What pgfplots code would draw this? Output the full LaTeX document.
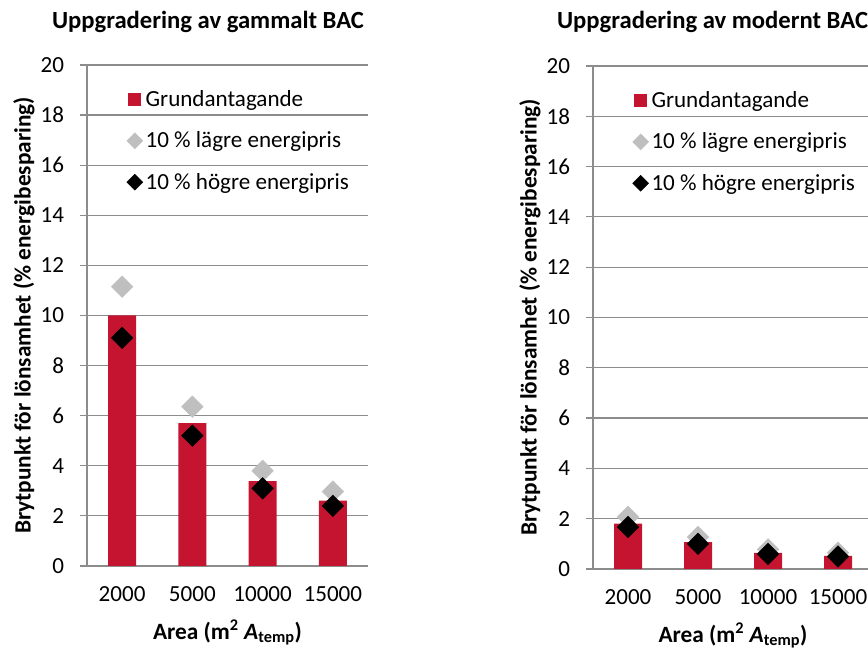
\documentclass[border=0pt]{standalone}
\usepackage{fontspec}
\setmainfont{Carlito}
\usepackage{pgfplots}
\pgfplotsset{compat=1.18}

\definecolor{barred}{RGB}{196,20,48}
\definecolor{litegray}{RGB}{191,191,191}
\definecolor{gridgray}{RGB}{140,140,140}

\pgfplotsset{
  bacstyle/.style={
    scale only axis, anchor=south west,
    xmin=-0.5, xmax=3.5, ymin=0, ymax=20,
    ytick={0,2,...,20},
    xtick={0,1,2,3}, xticklabels={2000,5000,10000,15000},
    minor xtick={-0.5,0.5,1.5,2.5,3.5},
    xtick style={draw=none},
    minor tick style={draw=gridgray, line width=0.9pt},
    ytick style={draw=gridgray, line width=0.9pt},
    tick align=outside, major tick length=5.25pt, minor tick length=5.25pt,
    axis x line*=bottom, axis y line*=left,
    axis line style={-, draw=gridgray, line width=0.9pt},
    ymajorgrids, grid style={draw=gridgray, line width=0.9pt},
    /pgf/number format/assume math mode=true,
    tick label style={font=\fontsize{17.3}{20}\selectfont},
    yticklabel style={anchor=east, xshift=-8.5pt},
    xticklabel style={anchor=center, yshift=-16pt},
    label style={font=\fontsize{17.5}{20}\selectfont\bfseries},
    xlabel={Area (m\textsuperscript{2} \textit{A}\textsubscript{temp})},
    xlabel style={at={(axis description cs:0.5,0)}, anchor=center, yshift=-50pt},
    ylabel={Brytpunkt för lönsamhet (\% energibesparing)},
    ylabel style={at={(axis description cs:0,0.5)}, anchor=center, yshift=47.25pt},
    legend cell align=left,
    legend style={at={(axis description cs:0.14,0.955)}, anchor=north west,
      draw=none, fill=none, row sep=13.5pt, inner sep=0pt,
      font=\fontsize{17.3}{20}\selectfont},
  },
  barleg/.style={legend image code/.code={
    \fill[barred] (0pt,-4.875pt) rectangle (9.75pt,4.875pt);}},
  grayleg/.style={legend image code/.code={
    \fill[litegray, rotate around={45:(4.9pt,0pt)}] (0.7pt,-4.2pt) rectangle (9.1pt,4.2pt);}},
  blackleg/.style={legend image code/.code={
    \fill[black, rotate around={45:(4.9pt,0pt)}] (0.7pt,-4.2pt) rectangle (9.1pt,4.2pt);}},
  dia/.style={only marks, color=#1, mark=square*, mark size=5.7pt,
    mark options={rotate=45, fill=#1, draw=none}},
}

\begin{document}
\begin{tikzpicture}
% left panel: old BAC
\begin{axis}[bacstyle, at={(65.25pt,62.25pt)}, width=210.75pt, height=375.75pt]
\addplot[ybar, bar width=0.4, fill=barred, draw=none, barleg]
  coordinates {(0,10.0) (1,5.70) (2,3.39) (3,2.61)};
\addplot[dia=litegray, grayleg]
  coordinates {(0,11.15) (1,6.36) (2,3.80) (3,2.97)};
\addplot[dia=black, blackleg]
  coordinates {(0,9.11) (1,5.20) (2,3.10) (3,2.40)};
\legend{Grundantagande, 10 \% lägre energipris, 10 \% högre energipris}
\end{axis}
% right panel: modern BAC
\begin{axis}[bacstyle, at={(444.75pt,60pt)}, width=210pt, height=377.25pt]
\addplot[ybar, bar width=0.4, fill=barred, draw=none, barleg]
  coordinates {(0,1.80) (1,1.07) (2,0.64) (3,0.52)};
\addplot[dia=litegray, grayleg]
  coordinates {(0,2.07) (1,1.27) (2,0.78) (3,0.65)};
\addplot[dia=black, blackleg]
  coordinates {(0,1.67) (1,1.00) (2,0.60) (3,0.50)};
\legend{Grundantagande, 10 \% lägre energipris, 10 \% högre energipris}
\end{axis}
\node[font=\fontsize{18.5}{22}\selectfont\bfseries] at (156pt,470.25pt) {Uppgradering av gammalt BAC};
\node[font=\fontsize{18.5}{22}\selectfont\bfseries] at (534.4pt,470.25pt) {Uppgradering av modernt BAC};
\pgfresetboundingbox
\path[use as bounding box] (0,0) rectangle (651pt,486.75pt);
\end{tikzpicture}
\end{document}
